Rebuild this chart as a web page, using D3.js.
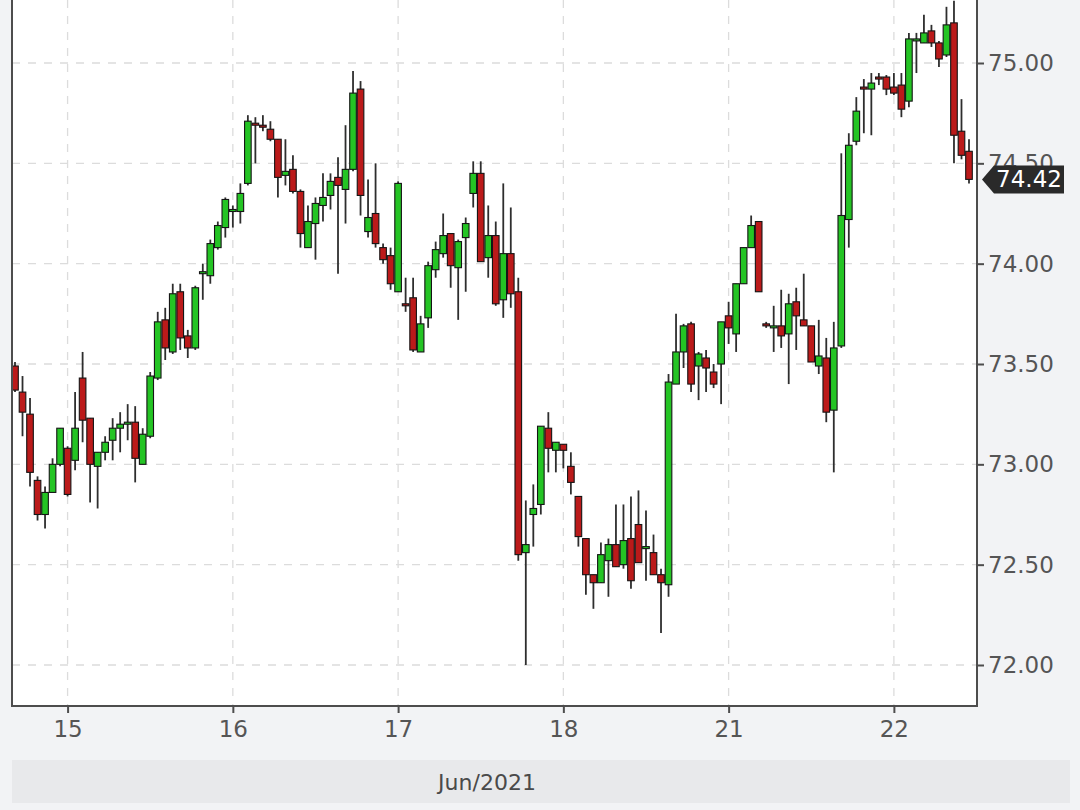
<!DOCTYPE html>
<html>
<head>
<meta charset="utf-8">
<script src="https://cdn.jsdelivr.net/npm/d3@7"></script>
<style>
  html, body { margin: 0; padding: 0; background: #f2f3f5; }
  svg { display: block; }
</style>
</head>
<body>
<svg class="svg" width="1080" height="810"></svg>
<script>
// hourly candles, 15-22 Jun 2021 (weekend skipped)
const opens = [
  73.49, 73.36, 73.25, 72.92, 72.75, 72.86, 73.00, 73.08, 73.02, 73.43,
  73.23, 72.99, 73.06, 73.12, 73.18, 73.20, 73.21, 73.00, 73.14, 73.43,
  73.72, 73.56, 73.86, 73.64, 73.58, 73.95, 73.94, 74.08, 74.18, 74.26,
  74.26, 74.40, 74.70, 74.69, 74.67, 74.62, 74.44, 74.47, 74.36, 74.08,
  74.20, 74.29, 74.34, 74.43, 74.37, 74.47, 74.87, 74.16, 74.25, 74.08,
  74.04, 73.86, 73.80, 73.83, 73.56, 73.73, 73.97, 74.05, 74.15, 73.98,
  74.13, 74.35, 74.45, 74.03, 74.14, 73.82, 74.05, 73.86, 72.56, 72.75,
  72.80, 73.18, 73.07, 73.10, 72.99, 72.84, 72.63, 72.45, 72.41, 72.52,
  72.60, 72.50, 72.63, 72.70, 72.58, 72.56, 72.45, 72.40, 73.40, 73.56,
  73.70, 73.49, 73.53, 73.46, 73.50, 73.74, 73.65, 73.90, 74.08, 74.21,
  73.70, 73.68, 73.69, 73.65, 73.81, 73.72, 73.69, 73.49, 73.53, 73.27,
  73.59, 74.22, 74.61, 74.88, 74.87, 74.93, 74.93, 74.88, 74.89, 74.81,
  75.11, 75.10, 75.16, 75.10, 75.04, 75.20, 74.66, 74.56
];
const highs = [
  73.51, 73.44, 73.33, 72.94, 72.89, 73.03, 73.18, 73.09, 73.36, 73.56,
  73.23, 73.06, 73.14, 73.23, 73.26, 73.30, 73.29, 73.18, 73.46, 73.76,
  73.78, 73.90, 73.90, 73.67, 73.89, 74.00, 74.12, 74.21, 74.33, 74.29,
  74.40, 74.74, 74.73, 74.74, 74.71, 74.62, 74.62, 74.54, 74.37, 74.29,
  74.33, 74.45, 74.45, 74.53, 74.69, 74.96, 74.91, 74.42, 74.50, 74.10,
  74.08, 74.41, 73.93, 73.93, 73.74, 74.01, 74.11, 74.25, 74.15, 74.12,
  74.23, 74.51, 74.51, 74.29, 74.21, 74.40, 74.28, 73.93, 72.82, 72.90,
  73.19, 73.26, 73.11, 73.10, 73.06, 72.84, 72.63, 72.45, 72.61, 72.63,
  72.80, 72.80, 72.84, 72.87, 72.77, 72.65, 72.48, 73.45, 73.75, 73.70,
  73.71, 73.56, 73.57, 73.50, 73.71, 73.81, 73.90, 74.08, 74.24, 74.21,
  73.71, 73.79, 73.87, 73.85, 73.88, 73.95, 73.69, 73.72, 73.63, 73.71,
  74.55, 74.65, 74.83, 74.92, 74.95, 74.95, 74.94, 74.95, 74.95, 75.15,
  75.15, 75.24, 75.19, 75.11, 75.28, 75.31, 74.82, 74.62
];
const lows = [
  73.36, 73.14, 72.89, 72.72, 72.68, 72.86, 72.99, 72.84, 72.97, 73.11,
  72.81, 72.78, 73.02, 73.02, 73.06, 73.12, 72.91, 73.00, 73.13, 73.42,
  73.52, 73.55, 73.57, 73.53, 73.57, 73.82, 73.90, 74.07, 74.13, 74.18,
  74.20, 74.39, 74.50, 74.66, 74.61, 74.33, 74.39, 74.35, 74.08, 74.08,
  74.02, 74.21, 74.27, 73.95, 74.20, 74.46, 74.24, 74.13, 74.08, 74.00,
  73.87, 73.86, 73.76, 73.56, 73.56, 73.68, 73.93, 74.03, 73.88, 73.72,
  73.86, 74.28, 74.01, 73.93, 73.79, 73.73, 73.78, 72.52, 72.00, 72.59,
  72.75, 72.96, 72.96, 72.98, 72.85, 72.59, 72.35, 72.28, 72.41, 72.34,
  72.49, 72.48, 72.38, 72.51, 72.42, 72.45, 72.16, 72.34, 73.40, 73.48,
  73.36, 73.32, 73.36, 73.38, 73.30, 73.60, 73.56, 73.90, 74.08, 73.86,
  73.68, 73.56, 73.58, 73.40, 73.57, 73.69, 73.51, 73.45, 73.21, 72.96,
  73.58, 74.08, 74.59, 74.65, 74.64, 74.89, 74.84, 74.84, 74.73, 74.78,
  74.95, 75.10, 75.08, 74.98, 75.03, 74.50, 74.52, 74.40
];
const closes = [
  73.37, 73.26, 72.96, 72.75, 72.86, 73.00, 73.18, 72.85, 73.18, 73.22,
  73.00, 73.06, 73.11, 73.18, 73.20, 73.21, 73.03, 73.15, 73.44, 73.71,
  73.58, 73.85, 73.63, 73.58, 73.88, 73.96, 74.10, 74.19, 74.32, 74.27,
  74.35, 74.71, 74.69, 74.68, 74.62, 74.43, 74.46, 74.36, 74.15, 74.21,
  74.30, 74.33, 74.41, 74.39, 74.47, 74.85, 74.34, 74.23, 74.10, 74.02,
  73.90, 74.40, 73.79, 73.57, 73.70, 73.99, 74.07, 74.14, 73.99, 74.11,
  74.20, 74.45, 74.01, 74.14, 73.80, 74.05, 73.85, 72.55, 72.60, 72.78,
  73.19, 73.08, 73.11, 73.07, 72.91, 72.64, 72.45, 72.41, 72.55, 72.60,
  72.49, 72.62, 72.42, 72.51, 72.59, 72.45, 72.41, 73.41, 73.56, 73.69,
  73.40, 73.55, 73.48, 73.40, 73.71, 73.68, 73.90, 74.08, 74.19, 73.86,
  73.69, 73.69, 73.64, 73.80, 73.74, 73.69, 73.51, 73.54, 73.26, 73.58,
  74.24, 74.59, 74.76, 74.87, 74.90, 74.92, 74.87, 74.85, 74.77, 75.12,
  75.12, 75.15, 75.10, 75.02, 75.19, 74.64, 74.54, 74.42
];

// day labels and the candle each day starts at
const dayLabels = ["15", "16", "17", "18", "21", "22"];
const dayStarts = [7, 29, 51, 73, 95, 117];
const yTicks = [72, 72.5, 73, 73.5, 74, 74.5, 75];
const axisTitle = "Jun/2021";

const width = 1080, height = 810;
const plotLeft = 12, plotRight = 977, plotTop = 0, plotBottom = 706;

const svg = d3.select('.svg');

const candles = opens.map((o, i) => ({
  i: i, o: o, h: highs[i], l: lows[i], c: closes[i]
}));

const x = d3.scaleLinear()
  .domain([0, candles.length - 1])
  .range([15, 969]);

const y = d3.scaleLinear()
  .domain([72, 75])
  .range([665, 63]);

const FONT = "'DejaVu Sans', Verdana, sans-serif";

// plot background
svg.append("rect")
  .attr("x", plotLeft).attr("y", plotTop)
  .attr("width", plotRight - plotLeft).attr("height", plotBottom - plotTop)
  .attr("fill", "#ffffff");

// bottom band with month title
svg.append("rect")
  .attr("x", 12).attr("y", 760)
  .attr("width", 1058).attr("height", 43)
  .attr("fill", "#e8e9eb");

svg.append("text")
  .attr("x", 487).attr("y", 790)
  .attr("text-anchor", "middle")
  .attr("font-family", FONT)
  .attr("font-size", 22)
  .attr("fill", "#4a4a4a")
  .text(axisTitle);

// grid
const grid = svg.append("g").attr("class", "grid")
  .attr("stroke", "#dcdcdc")
  .attr("stroke-width", 1.3)
  .attr("stroke-dasharray", "8,8");

grid.selectAll(".hgrid")
  .data(yTicks)
  .enter()
  .append("line")
  .attr("class", "hgrid")
  .attr("x1", plotLeft).attr("x2", plotRight)
  .attr("y1", d => y(d)).attr("y2", d => y(d));

grid.selectAll(".vgrid")
  .data(dayStarts)
  .enter()
  .append("line")
  .attr("class", "vgrid")
  .attr("x1", d => x(d)).attr("x2", d => x(d))
  .attr("y1", plotTop).attr("y2", plotBottom);

// candles
svg.append("clipPath").attr("id", "plotclip")
  .append("rect")
  .attr("x", plotLeft).attr("y", plotTop)
  .attr("width", plotRight - plotLeft).attr("height", plotBottom - plotTop);

const candleG = svg.append("g").attr("clip-path", "url(#plotclip)");

const bars = candleG.selectAll(".candle")
  .data(candles)
  .enter()
  .append("g")
  .attr("class", "candle");

bars.append("line")
  .attr("x1", d => x(d.i)).attr("x2", d => x(d.i))
  .attr("y1", d => y(d.h)).attr("y2", d => y(d.l))
  .attr("stroke", "#2e2e2e")
  .attr("stroke-width", 1.8);

const bodyW = 6.6;
bars.append("rect")
  .attr("x", d => x(d.i) - bodyW / 2)
  .attr("y", d => y(Math.max(d.o, d.c)))
  .attr("width", bodyW)
  .attr("height", d => Math.max(2, Math.abs(y(d.o) - y(d.c))))
  .attr("fill", d => d.c >= d.o ? "#24c424" : "#bb1a1a")
  .attr("stroke", "#151515")
  .attr("stroke-width", 1.1);

// frame
const frame = svg.append("g")
  .attr("stroke", "#4d4d4d")
  .attr("stroke-width", 2)
  .attr("fill", "none");
frame.append("path")
  .attr("d", `M${plotLeft},${plotTop}V${plotBottom}H${plotRight}V${plotTop}`);

// y axis on the right
const yAxis = d3.axisRight(y)
  .tickValues(yTicks)
  .tickFormat(d3.format(".2f"))
  .tickSize(7)
  .tickPadding(4);

const yg = svg.append("g")
  .attr("transform", `translate(${plotRight},0)`)
  .call(yAxis);
yg.select(".domain").remove();
yg.selectAll(".tick line").attr("stroke", "#4d4d4d").attr("stroke-width", 2);
yg.selectAll(".tick text")
  .attr("font-family", FONT)
  .attr("font-size", 23)
  .attr("fill", "#555");

// x axis
const xAxis = d3.axisBottom(x)
  .tickValues(dayStarts)
  .tickFormat((d, i) => dayLabels[i])
  .tickSize(7)
  .tickPadding(8);

const xg = svg.append("g")
  .attr("transform", `translate(0,${plotBottom})`)
  .call(xAxis);
xg.select(".domain").remove();
xg.selectAll(".tick line").attr("stroke", "#4d4d4d").attr("stroke-width", 2);
xg.selectAll(".tick text")
  .attr("font-family", FONT)
  .attr("font-size", 23)
  .attr("fill", "#555");

// last price tag
const last = closes[closes.length - 1];
const ty = y(last);
svg.append("path")
  .attr("d", `M982,${ty}L994,${ty - 14}H1064V${ty + 14}H994Z`)
  .attr("fill", "#2a2a2a");

svg.append("text")
  .attr("x", 1029).attr("y", ty + 8)
  .attr("text-anchor", "middle")
  .attr("font-family", FONT)
  .attr("font-size", 23)
  .attr("fill", "#ffffff")
  .text(d3.format(".2f")(last));
</script>
</body>
</html>
